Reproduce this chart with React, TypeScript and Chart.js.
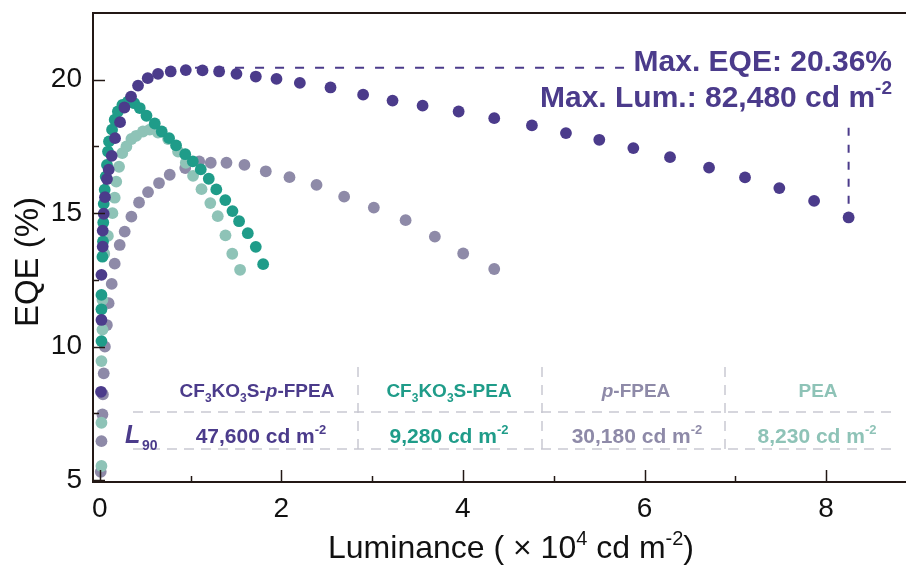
import React, { useEffect, useRef } from 'react';
import { Chart, registerables } from 'chart.js';

Chart.register(...registerables);

const FONT = '"Liberation Sans", Arial, Helvetica, sans-serif';
const AXIS = '#231815';
const PURPLE = '#4b3b8b';
const TEAL = '#1f9c89';
const GRAY = '#8e8aa8';
const LTEAL = '#8ec3b7';
const TABLE_LINE = '#c9c9d2';

// Axis ranges and ticks
const X_MIN = -0.074;
const X_MAX = 8.88;
const Y_MIN = 4.93;
const Y_MAX = 22.5;
const X_TICKS = [0, 2, 4, 6, 8];
const X_MINOR = [1, 3, 5, 7];
const Y_TICKS = [5, 10, 15, 20];
const Y_MINOR = [7.5, 12.5, 17.5];

// CF3KO3S-p-FPEA (x in 10^4 cd m^-2, y = EQE %)
const purpleX = [0.014, 0.019, 0.019, 0.033, 0.033, 0.044, 0.058, 0.080, 0.099, 0.132, 0.169, 0.224, 0.272, 0.345, 0.422, 0.529, 0.642, 0.782, 0.948, 1.132, 1.315, 1.506, 1.719, 1.947, 2.204, 2.542, 2.901, 3.225, 3.556, 3.953, 4.345, 4.760, 5.135, 5.502, 5.877, 6.281, 6.711, 7.107, 7.485, 7.868, 8.248];
const purpleY = [8.31, 11.0, 12.69, 13.75, 14.35, 14.98, 15.60, 16.28, 16.63, 17.15, 17.81, 18.41, 18.96, 19.37, 19.78, 20.06, 20.22, 20.31, 20.36, 20.35, 20.31, 20.22, 20.12, 20.03, 19.88, 19.71, 19.44, 19.22, 19.03, 18.81, 18.56, 18.29, 18.0, 17.75, 17.44, 17.10, 16.71, 16.34, 15.94, 15.46, 14.84];

// CF3KO3S-PEA
const tealX = [0.019, 0.019, 0.019, 0.030, 0.036, 0.039, 0.044, 0.055, 0.066, 0.080, 0.091, 0.102, 0.136, 0.165, 0.200, 0.250, 0.31, 0.38, 0.441, 0.515, 0.606, 0.683, 0.764, 0.841, 0.942, 1.025, 1.113, 1.201, 1.284, 1.383, 1.462, 1.535, 1.631, 1.719, 1.800];
const tealY = [10.21, 11.40, 11.94, 13.37, 13.94, 14.65, 15.35, 15.88, 16.37, 16.81, 17.31, 17.69, 18.13, 18.50, 18.81, 19.06, 19.18, 19.12, 18.94, 18.65, 18.36, 18.06, 17.81, 17.54, 17.21, 16.94, 16.64, 16.29, 15.89, 15.49, 15.08, 14.70, 14.25, 13.74, 13.09];

// p-FPEA
const grayX = [0.011, 0.019, 0.030, 0.035, 0.044, 0.057, 0.079, 0.098, 0.132, 0.165, 0.220, 0.275, 0.349, 0.433, 0.532, 0.653, 0.771, 0.942, 1.096, 1.223, 1.396, 1.594, 1.829, 2.090, 2.388, 2.692, 3.019, 3.369, 3.691, 4.003, 4.345];
const grayY = [5.31, 6.46, 7.46, 8.21, 9.0, 10.0, 10.81, 11.63, 12.35, 13.11, 13.81, 14.31, 14.87, 15.40, 15.79, 16.13, 16.44, 16.69, 16.94, 16.89, 16.89, 16.81, 16.57, 16.35, 16.06, 15.62, 15.21, 14.74, 14.12, 13.49, 12.91];

// PEA
const lightX = [0.019, 0.019, 0.019, 0.030, 0.030, 0.050, 0.090, 0.140, 0.165, 0.182, 0.213, 0.248, 0.294, 0.349, 0.402, 0.476, 0.551, 0.642, 0.753, 0.863, 0.948, 1.028, 1.121, 1.218, 1.300, 1.385, 1.460, 1.546];
const lightY = [5.53, 7.15, 9.46, 10.64, 11.75, 13.48, 14.15, 15.0, 15.58, 16.18, 16.74, 17.25, 17.50, 17.78, 17.90, 18.06, 18.13, 18.02, 17.78, 17.31, 16.89, 16.40, 15.90, 15.38, 14.89, 14.17, 13.48, 12.88];

// Annotation values
const MAX_EQE_LINE = 20.45;
const MAX_EQE_LINE_X = [1.05, 5.79];
const MAX_LUM_X = 8.248;
const MAX_LUM_LINE_Y = [15.05, 18.2];
const L90_VALUES = ['47,600', '9,280', '30,180', '8,230'];

type Part = { t: string; sup?: boolean; sub?: boolean; it?: boolean };

function drawRich(
  ctx: CanvasRenderingContext2D,
  parts: Part[],
  x: number,
  y: number,
  size: number,
  bold: boolean,
  color: string,
  align: 'left' | 'center' | 'right',
  smallScale = 0.62
) {
  const fontFor = (p: Part) =>
    `${p.it ? 'italic ' : ''}${bold ? 'bold ' : ''}${p.sup || p.sub ? Math.round(size * smallScale) : size}px ${FONT}`;
  const widths: number[] = [];
  let total = 0;
  for (const p of parts) {
    ctx.font = fontFor(p);
    const w = ctx.measureText(p.t).width;
    widths.push(w);
    total += w;
  }
  let cx = align === 'center' ? x - total / 2 : align === 'right' ? x - total : x;
  ctx.fillStyle = color;
  ctx.textAlign = 'left';
  ctx.textBaseline = 'alphabetic';
  parts.forEach((p, i) => {
    ctx.font = fontFor(p);
    const dy = p.sup ? -size * 0.42 : p.sub ? size * 0.25 : 0;
    ctx.fillText(p.t, cx, y + dy);
    cx += widths[i];
  });
}

const annotPlugin = {
  id: 'annot',
  beforeDatasetsDraw(chart: any) {
    const ctx: CanvasRenderingContext2D = chart.ctx;
    const { left, right } = chart.chartArea;
    ctx.save();
    ctx.strokeStyle = TABLE_LINE;
    ctx.lineWidth = 1.5;
    ctx.setLineDash([10, 7]);
    const rowTop = 412;
    const rowBottom = 449;
    const x0 = left + 40;
    const x1 = right - 8;
    for (const yy of [rowTop, rowBottom]) {
      ctx.beginPath();
      ctx.moveTo(x0, yy);
      ctx.lineTo(x1, yy);
      ctx.stroke();
    }
    ctx.setLineDash([10, 8]);
    for (const xx of [358, 542, 725]) {
      ctx.beginPath();
      ctx.moveTo(xx, 367);
      ctx.lineTo(xx, rowBottom);
      ctx.stroke();
    }
    ctx.restore();
  },
  afterDatasetsDraw(chart: any) {
    const ctx: CanvasRenderingContext2D = chart.ctx;
    const xs = chart.scales.x;
    const ys = chart.scales.y;
    const { left, right, top, bottom } = chart.chartArea;
    ctx.save();

    // frame
    ctx.strokeStyle = AXIS;
    ctx.lineWidth = 2;
    ctx.setLineDash([]);
    ctx.beginPath();
    ctx.moveTo(right, top);
    ctx.lineTo(left, top);
    ctx.lineTo(left, bottom);
    ctx.lineTo(right, bottom);
    ctx.stroke();
    // ticks (inward)
    ctx.lineWidth = 1.5;
    for (const v of Y_TICKS) {
      const p = Math.round(ys.getPixelForValue(v)) + 0.5;
      ctx.beginPath(); ctx.moveTo(left, p); ctx.lineTo(left + 12, p); ctx.stroke();
    }
    for (const v of Y_MINOR) {
      const p = Math.round(ys.getPixelForValue(v)) + 0.5;
      ctx.beginPath(); ctx.moveTo(left, p); ctx.lineTo(left + 6, p); ctx.stroke();
    }
    for (const v of X_TICKS) {
      const p = Math.round(xs.getPixelForValue(v)) + 0.5;
      ctx.beginPath(); ctx.moveTo(p, bottom); ctx.lineTo(p, bottom - 12); ctx.stroke();
    }
    for (const v of X_MINOR) {
      const p = Math.round(xs.getPixelForValue(v)) + 0.5;
      ctx.beginPath(); ctx.moveTo(p, bottom); ctx.lineTo(p, bottom - 6); ctx.stroke();
    }

    // Max EQE dashed line
    ctx.strokeStyle = PURPLE;
    ctx.lineWidth = 2;
    ctx.setLineDash([9, 11]);
    const yMax = ys.getPixelForValue(MAX_EQE_LINE);
    ctx.beginPath();
    ctx.moveTo(xs.getPixelForValue(MAX_EQE_LINE_X[0]), yMax);
    ctx.lineTo(xs.getPixelForValue(MAX_EQE_LINE_X[1]), yMax);
    ctx.stroke();
    // Max Lum vertical dashed line
    ctx.setLineDash([8, 9]);
    const xl = xs.getPixelForValue(MAX_LUM_X);
    ctx.beginPath();
    ctx.moveTo(xl, ys.getPixelForValue(MAX_LUM_LINE_Y[1]));
    ctx.lineTo(xl, ys.getPixelForValue(MAX_LUM_LINE_Y[0]));
    ctx.stroke();
    ctx.setLineDash([]);

    drawRich(ctx, [{ t: 'Max. EQE: 20.36%' }], 892, 71, 30, true, PURPLE, 'right');
    drawRich(ctx, [{ t: 'Max. Lum.: 82,480 cd m' }, { t: '-2', sup: true }], 892, 107, 30, true, PURPLE, 'right');

    // table headers
    const hy = 397;
    drawRich(ctx, [{ t: 'CF' }, { t: '3', sub: true }, { t: 'KO' }, { t: '3', sub: true }, { t: 'S-' }, { t: 'p', it: true }, { t: '-FPEA' }], 257, hy, 19, true, PURPLE, 'center');
    drawRich(ctx, [{ t: 'CF' }, { t: '3', sub: true }, { t: 'KO' }, { t: '3', sub: true }, { t: 'S-PEA' }], 449, hy, 19, true, TEAL, 'center');
    drawRich(ctx, [{ t: 'p', it: true }, { t: '-FPEA' }], 636, hy, 19, true, GRAY, 'center');
    drawRich(ctx, [{ t: 'PEA' }], 818, hy, 19, true, LTEAL, 'center');

    // L90 row
    const vy = 443;
    drawRich(ctx, [{ t: 'L', it: true }], 125, vy, 25, true, PURPLE, 'left');
    drawRich(ctx, [{ t: '90', sub: true }], 142, vy + 1, 22, true, PURPLE, 'left');
    const centers = [261, 449, 637, 817];
    const colors = [PURPLE, TEAL, GRAY, LTEAL];
    L90_VALUES.forEach((v, i) => {
      drawRich(ctx, [{ t: v + ' cd m' }, { t: '-2', sup: true }], centers[i], vy, 21, true, colors[i], 'center');
    });

    // axis titles
    ctx.save();
    ctx.translate(29, 262);
    ctx.rotate(-Math.PI / 2);
    ctx.fillStyle = '#111';
    ctx.font = `33px ${FONT}`;
    ctx.textAlign = 'center';
    ctx.textBaseline = 'middle';
    ctx.fillText('EQE (%)', 0, 0);
    ctx.restore();

    drawRich(
      ctx,
      [{ t: 'Luminance ( \u00d7 10' }, { t: '4', sup: true }, { t: ' cd m' }, { t: '-2', sup: true }, { t: ')' }],
      511,
      558,
      32,
      false,
      '#111',
      'center'
    );

    ctx.restore();
  },
};

function makePoints(xs: number[], ys: number[]) {
  return xs.map((x, i) => ({ x, y: ys[i] }));
}

export default function App() {
  const ref = useRef<HTMLCanvasElement | null>(null);
  useEffect(() => {
    document.body.style.margin = '0';
    const canvas = ref.current;
    if (!canvas) return;
    const ds = (label: string, xs: number[], ys: number[], color: string) => ({
      label,
      data: makePoints(xs, ys),
      backgroundColor: color,
      borderColor: color,
      pointRadius: 5.9,
      pointBorderWidth: 0,
      showLine: false,
    });
    const chart = new Chart(canvas, {
      type: 'scatter',
      data: {
        datasets: [
          ds('CF3KO3S-p-FPEA', purpleX, purpleY, PURPLE),
          ds('CF3KO3S-PEA', tealX, tealY, TEAL),
          ds('PEA', lightX, lightY, LTEAL),
          ds('p-FPEA', grayX, grayY, GRAY),
        ],
      },
      options: {
        responsive: false,
        animation: false,
        devicePixelRatio: 1,
        layout: { autoPadding: false, padding: { top: 13, right: 0, left: 0, bottom: 0 } },
        plugins: { legend: { display: false }, tooltip: { enabled: false } },
        scales: {
          x: {
            type: 'linear',
            min: X_MIN,
            max: X_MAX,
            grid: { display: false, drawTicks: false },
            border: { display: false },
            afterBuildTicks: (s: any) => {
              s.ticks = X_TICKS.map((v) => ({ value: v }));
            },
            afterFit: (s: any) => {
              s.height = 85;
              s.paddingLeft = 0;
              s.paddingRight = 0;
            },
            ticks: {
              padding: 10,
              autoSkip: false,
              maxRotation: 0,
              color: '#111',
              font: { family: FONT, size: 28 },
              callback: (v: any) => String(v),
            },
          },
          y: {
            type: 'linear',
            min: Y_MIN,
            max: Y_MAX,
            grid: { display: false, drawTicks: false },
            border: { display: false },
            afterBuildTicks: (s: any) => {
              s.ticks = Y_TICKS.map((v) => ({ value: v }));
            },
            afterFit: (s: any) => {
              s.width = 93;
              s.paddingTop = 0;
              s.paddingBottom = 0;
            },
            ticks: {
              padding: 11,
              color: '#111',
              font: { family: FONT, size: 28 },
              callback: (v: any) => String(v),
            },
          },
        },
      },
      plugins: [annotPlugin],
    });
    return () => chart.destroy();
  }, []);
  return (
    <div style={{ width: 906, height: 567, position: 'relative' }}>
      <canvas ref={ref} width={906} height={567} style={{ width: 906, height: 567, display: 'block' }} />
    </div>
  );
}
